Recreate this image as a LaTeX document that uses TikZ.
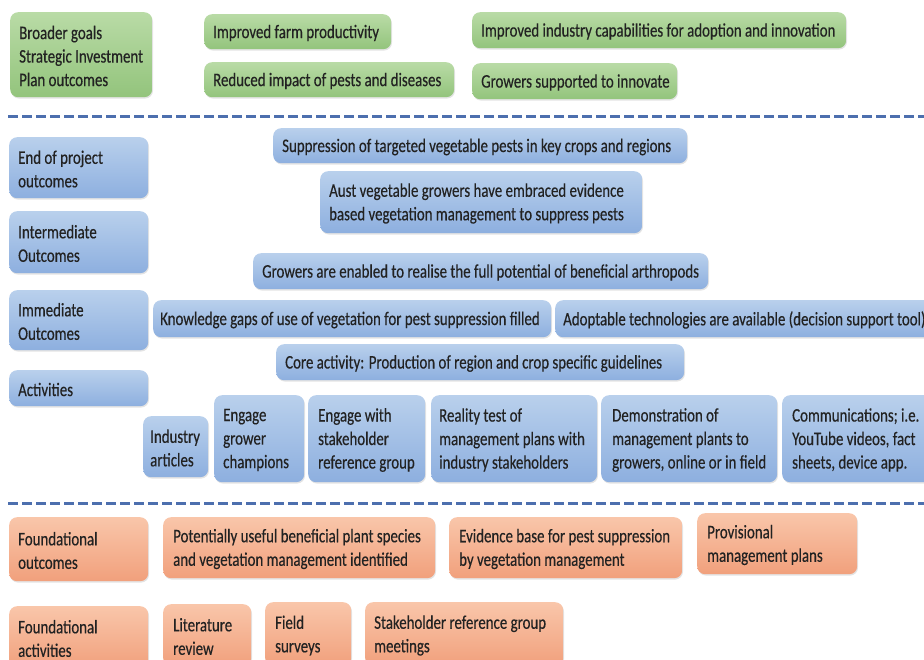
\documentclass[tikz,border=0pt]{standalone}
\usepackage{fontspec}
\setmainfont{Carlito}[FakeStretch=0.775, FakeBold=0.35]
\usetikzlibrary{shadows}
\definecolor{gtop}{HTML}{B9DBA6}
\definecolor{gbot}{HTML}{93C47C}
\definecolor{btop}{HTML}{B9D0EC}
\definecolor{bbot}{HTML}{8DAFDF}
\definecolor{otop}{HTML}{F9C6AA}
\definecolor{obot}{HTML}{F1A07C}
\definecolor{ink}{HTML}{222222}
\definecolor{sepline}{HTML}{4D6FAE}
% \tbox{style}{name}{x}{y}{w}{h}{left pad}{text}: a rounded box and its left-aligned label
\newcommand\tbox[8]{%
  \node[#1, minimum width=#5pt, minimum height=#6pt] (#2) at (#3,#4) {};
  \node[lbl] (#2-t) at ([xshift=#7pt, yshift=-1.3pt]#2.west) {#8};}
\begin{document}
\begin{tikzpicture}[x=1pt,y=-1pt,
  box/.style={rounded corners=8pt, anchor=north west, inner sep=0pt,
    drop shadow={opacity=0.22, shadow xshift=0.8pt, shadow yshift=-1.4pt}},
  gbox/.style={box, top color=gtop, bottom color=gbot},
  bbox/.style={box, top color=btop, bottom color=bbot},
  obox/.style={box, top color=otop, bottom color=obot},
  lbl/.style={anchor=west, inner sep=0pt, align=left, text=ink,
    font=\fontsize{19.2}{23.5}\selectfont},
  sep/.style={draw=sepline, line width=3pt, dash pattern=on 10pt off 4pt}]
\useasboundingbox (0,0) rectangle (924,660);
\clip (0,0) rectangle (924,660);

% Broader goals
\tbox{gbox}{g0}{10}{12}{142}{85}{9}{Broader goals\\Strategic Investment\\Plan outcomes}
\tbox{gbox}{g1}{204}{14}{187}{35}{9}{Improved farm productivity}
\tbox{gbox}{g2}{204}{62}{250}{35}{9}{Reduced impact of pests and diseases}
\tbox{gbox}{g3}{472}{12}{374}{36}{9}{Improved industry capabilities for adoption and innovation}
\tbox{gbox}{g4}{472}{63}{205}{36}{9}{Growers supported to innovate}

% separators
\coordinate (s1a) at (8,117);
\coordinate (s1b) at (930,117);
\coordinate (s2a) at (8,503);
\coordinate (s2b) at (930,503);
\draw[sep] (s1a) -- (s1b);
\draw[sep] (s2a) -- (s2b);

% Project outcomes and activities
\tbox{bbox}{b0}{9}{137}{139}{61}{9}{End of project\\outcomes}
\tbox{bbox}{b1}{273}{128}{414}{35}{9}{Suppression of targeted vegetable pests in key crops and regions}
\tbox{bbox}{b2}{320}{171}{322}{62}{9}{Aust vegetable growers have embraced evidence\\based vegetation management to suppress pests}
\tbox{bbox}{b3}{9}{211}{139}{62}{9}{Intermediate\\Outcomes}
\tbox{bbox}{b4}{253}{253}{455}{36}{9}{Growers are enabled to realise the full potential of beneficial arthropods}
\tbox{bbox}{b5}{9}{290}{139}{60}{9}{Immediate\\Outcomes}
\tbox{bbox}{b6}{153}{300}{398}{37}{7}{Knowledge gaps of use of vegetation for pest suppression filled}
\tbox{bbox}{b7}{555}{300}{400}{37}{8}{Adoptable technologies are available (decision support tool)}
\tbox{bbox}{b8}{276}{344}{408}{36}{9}{Core activity: Production of region and crop specific guidelines}
\tbox{bbox}{b9}{9}{370}{139}{36}{9}{Activities}
\tbox{bbox}{b10}{143}{416}{65}{61}{7}{Industry\\articles}
\tbox{bbox}{b11}{214}{395}{90}{87}{9}{Engage\\grower\\champions}
\tbox{bbox}{b12}{308}{395}{117}{87}{10}{Engage with\\stakeholder\\reference group}
\tbox{bbox}{b13}{431}{395}{166}{87}{8}{Reality test of\\management plans with\\industry stakeholders}
\tbox{bbox}{b14}{601}{395}{176}{87}{11}{Demonstration of\\management plants to\\growers, online or in field}
\tbox{bbox}{b15}{782}{395}{160}{87}{10}{Communications; i.e.\\YouTube videos, fact\\sheets, device app.}

% Foundations
\tbox{obox}{o0}{9}{517}{139}{64}{9}{Foundational\\outcomes}
\tbox{obox}{o1}{163}{517}{272}{61}{10}{Potentially useful beneficial plant species\\and vegetation management identified}
\tbox{obox}{o2}{449}{517}{233}{61}{10}{Evidence base for pest suppression\\by vegetation management}
\tbox{obox}{o3}{697}{513}{160}{61}{10}{Provisional\\management plans}
\tbox{obox}{o4}{9}{606}{139}{62}{9}{Foundational\\activities}
\tbox{obox}{o5}{163}{604}{88}{62}{10}{Literature\\review}
\tbox{obox}{o6}{265}{602}{86}{64}{10}{Field\\surveys}
\tbox{obox}{o7}{365}{602}{198}{64}{9}{Stakeholder reference group\\meetings}
\end{tikzpicture}
\end{document}
